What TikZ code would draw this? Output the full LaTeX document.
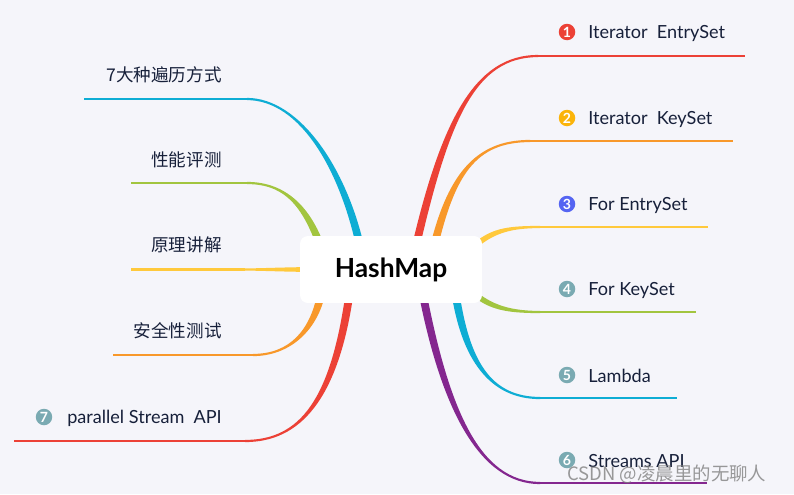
\documentclass[tikz,border=0pt]{standalone}
\usepackage{fontspec}
\setmainfont{Lato}
\newfontfamily\cjk{Noto Sans CJK SC}
\usetikzlibrary{calc}

\definecolor{bgcol}{HTML}{F5F5FA}
\definecolor{cred}{HTML}{EC4136}
\definecolor{corange}{HTML}{F8982A}
\definecolor{cyellow}{HTML}{FFC93C}
\definecolor{cgreen}{HTML}{A2C53F}
\definecolor{ccyan}{HTML}{0EADD4}
\definecolor{cpurple}{HTML}{84278F}
\definecolor{cblue}{HTML}{5565F2}
\definecolor{cgold}{HTML}{FBB40A}
\definecolor{cteal}{HTML}{7AAAB2}
\definecolor{ctext}{HTML}{17203A}

\pgfdeclarelayer{bg}
\pgfsetlayers{bg,main}

% tapered branch: colour, start, control 1, control 2, joint, start offset, joint offset
\newcommand\branch[7]{%
  \fill[#1] ($(#2)+(#6)$) .. controls ($#3+(#6)$) and ($#4+(#7)$) .. ($(#5)+(#7)$)
    -- ($(#5)-(#7)$) .. controls ($#4-(#7)$) and ($#3-(#6)$) .. ($(#2)-(#6)$) -- cycle;}

\tikzset{
  hubbox/.style={fill=white, rounded corners=4.5pt, minimum width=3.64cm,
    minimum height=1.34cm, font=\fontsize{15}{18}\selectfont\bfseries},
  leaf/.style={text=ctext, inner sep=0pt, font=\fontsize{10.3}{12}\selectfont},
  cnleaf/.style={text=ctext, inner sep=0pt, font=\cjk\fontsize{10}{12}\selectfont},
  numdot/.style={circle, fill=#1, text=white, inner sep=0pt, minimum size=0.33cm,
    font=\fontsize{8}{8}\selectfont\bfseries},
  twig/.style={line width=1.2pt},
}

\begin{document}
\begin{tikzpicture}[x=0.02cm, y=-0.02cm]
  \useasboundingbox (0,0) rectangle (794,494);

  % centre
  \node[hubbox] (hub) at (391,269.5) {HashMap};

  % start points under the box
  \coordinate (s1) at ($(hub)+(24,-19.5)$);
  \coordinate (s2) at ($(hub)+(41,-14.5)$);
  \coordinate (s3) at ($(hub)+(79,-19.5)$);
  \coordinate (s4) at ($(hub)+(79,20.5)$);
  \coordinate (s5) at ($(hub)+(64,20.5)$);
  \coordinate (s6) at ($(hub)+(31,20.5)$);
  \coordinate (s7) at ($(hub)+(-29,-14.5)$);
  \coordinate (s8) at ($(hub)+(-69,-19.5)$);
  \coordinate (s9) at ($(hub)+(-71,0)$);
  \coordinate (s10) at ($(hub)+(-69,20.5)$);
  \coordinate (s11) at ($(hub)+(-41,20.5)$);

  % joints and line ends
  \coordinate (j1) at (538,56);    \coordinate (e1) at (745,56);
  \coordinate (j2) at (530,141);   \coordinate (e2) at (733,141);
  \coordinate (j3) at (540,227);   \coordinate (e3) at (708,227);
  \coordinate (j4) at (540,312);   \coordinate (e4) at (696,312);
  \coordinate (j5) at (540,398);   \coordinate (e5) at (677,398);
  \coordinate (j6) at (540,483);   \coordinate (e6) at (707,483);
  \coordinate (j7) at (247,99);    \coordinate (e7) at (84,99);
  \coordinate (j8) at (247,183);   \coordinate (e8) at (131,183);
  \coordinate (j9) at (245,269.5); \coordinate (e9) at (131,269.5);
  \coordinate (j10) at (253,355);  \coordinate (e10) at (113,355);
  \coordinate (j11) at (245,441);  \coordinate (e11) at (14,441);

  \begin{pgfonlayer}{bg}
    \fill[bgcol] (0,0) rectangle (794,494);
    % right side
    \branch{cred}{s1}{(445,120)}{(475,56)}{j1}{-4,0}{0,-1.1}
    \draw[twig, cred] (j1) -- (e1);
    \branch{corange}{s2}{(450,175)}{(475,141)}{j2}{-4,0}{0,-1.1}
    \draw[twig, corange] (j2) -- (e2);
    \branch{cyellow}{s3}{(490,232)}{(505,227)}{j3}{0,-3.5}{0,-1.1}
    \draw[twig, cyellow] (j3) -- (e3);
    \branch{cgreen}{s4}{(488,306)}{(505,312)}{j4}{0,3.5}{0,1.1}
    \draw[twig, cgreen] (j4) -- (e4);
    \branch{ccyan}{s5}{(465,360)}{(490,398)}{j5}{-4,0}{0,1.1}
    \draw[twig, ccyan] (j5) -- (e5);
    \branch{cpurple}{s6}{(445,410)}{(480,483)}{j6}{-4,0}{0,1.1}
    \draw[twig, cpurple] (j6) -- (e6);
    % left side
    \branch{ccyan}{s7}{(345,170)}{(300,99)}{j7}{4,0}{0,-1.1}
    \draw[twig, ccyan] (j7) -- (e7);
    \branch{cgreen}{s8}{(305,200)}{(280,183)}{j8}{4,0}{0,-1.1}
    \draw[twig, cgreen] (j8) -- (e8);
    \branch{cyellow}{s9}{(290,269.5)}{(260,269.5)}{j9}{0,-2.5}{0,-1.1}
    \draw[twig, cyellow] (j9) -- (e9);
    \branch{corange}{s10}{(315,330)}{(290,355)}{j10}{4,0}{0,1.1}
    \draw[twig, corange] (j10) -- (e10);
    \branch{cred}{s11}{(335,400)}{(300,441)}{j11}{4,0}{0,1.1}
    \draw[twig, cred] (j11) -- (e11);
  \end{pgfonlayer}

  % right labels
  \node[numdot=cred] (n1) at (567,32) {1};
  \node[leaf, anchor=west] (t1) at (588,33) {Iterator\enspace EntrySet};
  \node[numdot=cgold] (n2) at (567,118) {2};
  \node[leaf, anchor=west] (t2) at (588,119) {Iterator\enspace KeySet};
  \node[numdot=cblue] (n3) at (567,204) {3};
  \node[leaf, anchor=west] (t3) at (588,205) {For EntrySet};
  \node[numdot=cteal] (n4) at (567,289) {4};
  \node[leaf, anchor=west] (t4) at (588,290) {For KeySet};
  \node[numdot=cteal] (n5) at (567,375) {5};
  \node[leaf, anchor=west] (t5) at (588,376) {Lambda};
  \node[numdot=cteal] (n6) at (567,460) {6};
  \node[leaf, anchor=west] (t6) at (588,461) {Streams API};

  % left labels
  \node[cnleaf, anchor=east] (t7) at (222,75) {7大种遍历方式};
  \node[cnleaf, anchor=east] (t8) at (222,160) {性能评测};
  \node[cnleaf, anchor=east] (t9) at (222,245) {原理讲解};
  \node[cnleaf, anchor=east] (t10) at (222,331) {安全性测试};
  \node[numdot=cteal] (n7) at (44,417) {7};
  \node[leaf, anchor=east] (t11) at (222,418) {parallel Stream\enspace API};

  % watermark
  \node[anchor=west, inner sep=0pt, text=gray, opacity=0.8,
    font=\cjk\fontsize{10.5}{12}\selectfont] (mark) at (567,474) {CSDN @凌晨里的无聊人};
\end{tikzpicture}
\end{document}
